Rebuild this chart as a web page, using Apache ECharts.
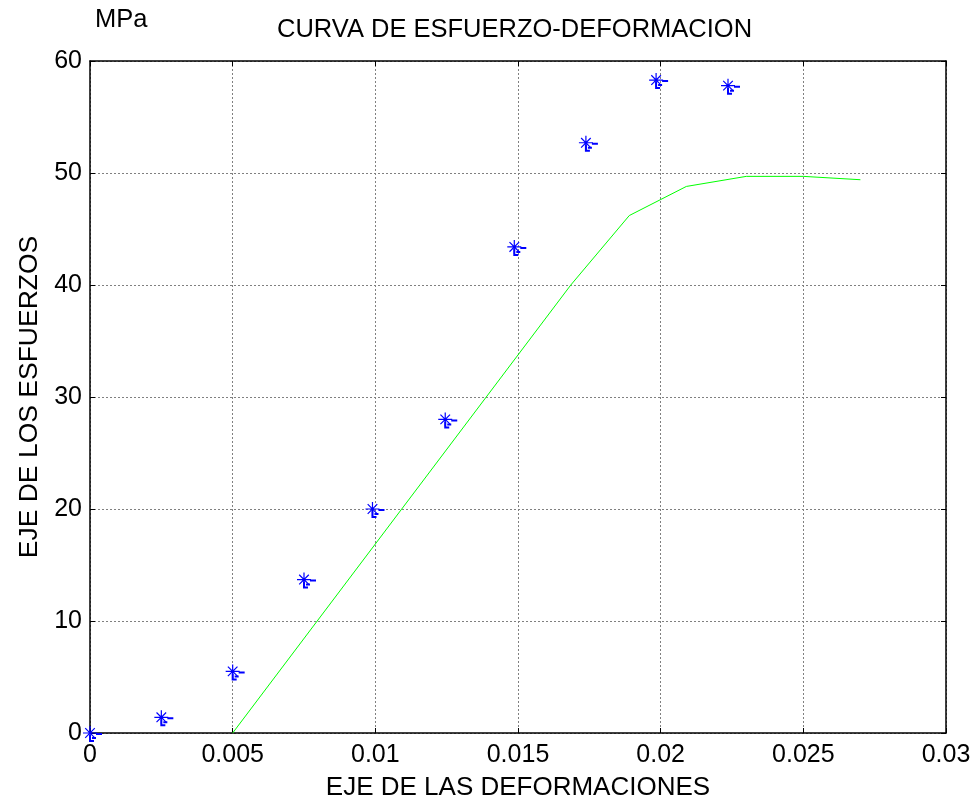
<!DOCTYPE html>
<html>
<head>
<meta charset="utf-8">
<script src="https://cdn.jsdelivr.net/npm/echarts@6/dist/echarts.min.js"></script>
<style>html,body{margin:0;padding:0;background:#fff}#c{width:979px;height:803px}</style>
</head>
<body>
<div id="c"></div>
<script>
// Measured points (deformation, stress in MPa)
var pointStrain = [0, 0.0025, 0.0050, 0.0075, 0.0099, 0.01245, 0.01487, 0.01738, 0.01984, 0.02236];
var pointStress = [0, 1.4, 5.5, 13.7, 20.0, 28.0, 43.4, 52.7, 58.3, 57.8];
// Model curve
var curveStrain = [0.0050, 0.01685, 0.0189, 0.0209, 0.0230, 0.0250, 0.0270];
var curveStress = [0, 40.0, 46.2, 48.8, 49.7, 49.7, 49.4];
// Ticks
var xTicks = [0, 0.005, 0.01, 0.015, 0.02, 0.025, 0.03];
var yTicks = [0, 10, 20, 30, 40, 50, 60];

var titleText = 'CURVA DE ESFUERZO-DEFORMACION';
var xName = 'EJE DE LAS DEFORMACIONES';
var yName = 'EJE DE LOS ESFUERZOS';
var unitText = 'MPa';

var FONT = '"Liberation Sans", Arial, sans-serif';
var pts = pointStrain.map(function (x, i) { return [x, pointStress[i]]; });
var curve = curveStrain.map(function (x, i) { return [x, curveStress[i]]; });

var chart = echarts.init(document.getElementById('c'), null, {renderer: 'canvas'});
var grid = {left: 90, right: 33, top: 61, bottom: 70, containLabel: false, outerBoundsMode: 'none'};
var gridLine = {show: true, lineStyle: {color: '#808080', width: 1, type: [2, 2]}};
var tickStyle = {show: true, inside: true, length: 5, lineStyle: {color: '#000', width: 1}};
var axisLine = {show: true, onZero: false, lineStyle: {color: '#000', width: 1.5}};

chart.setOption({
  animation: false,
  backgroundColor: '#fff',
  grid: grid,
  graphic: [
    {type: 'text', left: 277, top: 17, style: {text: titleText, font: '25.5px ' + FONT, fill: '#000'}},
    {type: 'text', left: 95, top: 7, style: {text: unitText, font: '25.5px ' + FONT, fill: '#000'}}
  ],
  xAxis: [{
    type: 'value', min: xTicks[0], max: xTicks[xTicks.length - 1], interval: xTicks[1] - xTicks[0],
    axisLine: axisLine, axisTick: tickStyle, splitLine: gridLine,
    axisLabel: {color: '#000', fontSize: 25, fontFamily: FONT, margin: 10,
      formatter: function (v) { return String(parseFloat(v.toFixed(4))); }},
    name: xName, nameLocation: 'middle', nameGap: 42,
    nameTextStyle: {color: '#000', fontSize: 26, fontFamily: FONT}
  }, {
    type: 'value', position: 'top', min: xTicks[0], max: xTicks[xTicks.length - 1], interval: xTicks[1] - xTicks[0],
    axisLine: axisLine, axisTick: tickStyle, splitLine: {show: false}, axisLabel: {show: false}
  }],
  yAxis: [{
    type: 'value', min: yTicks[0], max: yTicks[yTicks.length - 1], interval: yTicks[1] - yTicks[0],
    axisLine: axisLine, axisTick: tickStyle, splitLine: gridLine,
    axisLabel: {color: '#000', fontSize: 25, fontFamily: FONT, margin: 8},
    name: yName, nameLocation: 'middle', nameGap: 46,
    nameTextStyle: {color: '#000', fontSize: 26.5, fontFamily: FONT}
  }, {
    type: 'value', position: 'right', min: yTicks[0], max: yTicks[yTicks.length - 1], interval: yTicks[1] - yTicks[0],
    axisLine: axisLine, axisTick: tickStyle, splitLine: {show: false}, axisLabel: {show: false}
  }],
  series: [{
    type: 'line', data: curve, showSymbol: false, symbol: 'none',
    lineStyle: {color: '#00ff00', width: 1}, z: 3
  }, {
    type: 'scatter', data: pts,
    symbol: 'path://M0,7 L14,7 M7,0 L7,14 M2.2,2.2 L11.8,11.8 M11.8,2.2 L2.2,11.8',
    symbolSize: 14,
    itemStyle: {color: 'transparent', borderColor: '#0000ff', borderWidth: 1.2, opacity: 1}, z: 4
  }, {
    type: 'scatter', data: pts,
    symbol: 'path://M6,0 L12,0 L12,2 L6,2 Z M-1,2 L1,2 L1,8 L-1,8 Z M-1,7 L4,7 L4,9 L-1,9 Z M2,4 L6,4 L6,6 L2,6 Z',
    symbolSize: [13, 9], symbolOffset: [5.5, 4.5],
    itemStyle: {color: '#0000ff', opacity: 1}, z: 4
  }]
});
</script>
</body>
</html>
